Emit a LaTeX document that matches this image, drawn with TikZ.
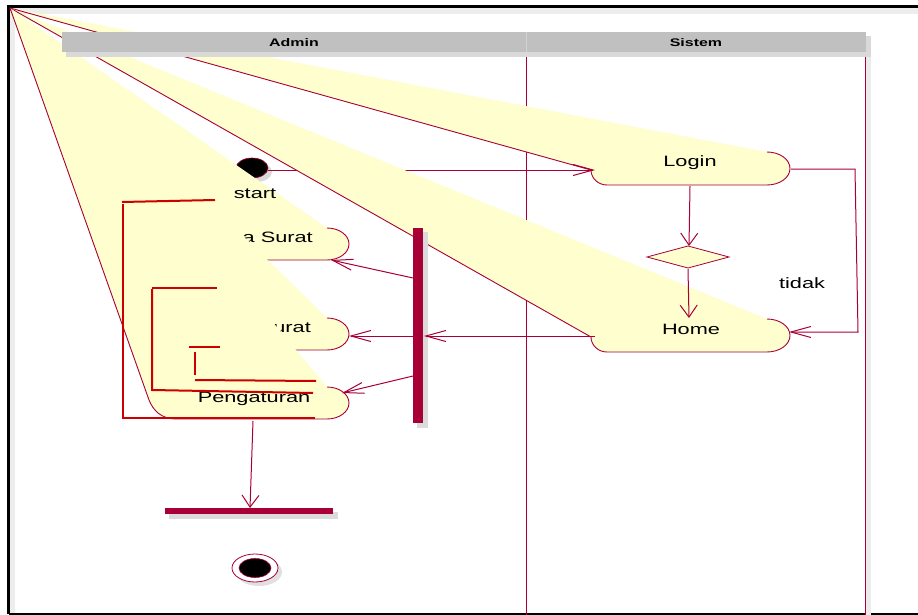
\documentclass[tikz,border=0pt]{standalone}
\usepackage{fontspec}
\setmainfont{Liberation Sans}
\usetikzlibrary{arrows.meta}
\definecolor{pred}{HTML}{A80036}
\definecolor{pyel}{HTML}{FEFECE}
\definecolor{hgray}{HTML}{C0C0C0}
\definecolor{lred}{HTML}{CC0000}
\newcommand{\hs}[1]{\scalebox{1.45}[1]{#1}}
\tikzset{
  conn/.style={draw=pred, line width=1pt},
  harr/.style={-{Straight Barb[length=20pt,width=11pt]}},
  varr/.style={-{Straight Barb[length=12pt,width=17pt]}},
  wedgefill/.style={fill=pyel},
  wedgeline/.style={draw=pred, line width=0.9pt},
  lbl/.style={font=\fontsize{15}{18}\selectfont, inner sep=0pt},
  hdr/.style={font=\fontsize{11}{13}\selectfont\bfseries, inner sep=0pt, anchor=base},
  loopline/.style={draw=lred, line width=2pt},
  shadow/.style={fill=black!14},
}
\begin{document}
\begin{tikzpicture}[x=1pt,y=-1pt]
\useasboundingbox (0,0) rectangle (918,615);
\fill[white] (0,0) rectangle (918,615);
\coordinate (o) at (10,8);
% frame with inner shadow
\fill[black!7] (10,8) rectangle (918,14);
\fill[black!7] (10,8) rectangle (15,613);
\draw[line width=2.5pt] (8.5,614) -- (8.5,6.5) -- (918,6.5);
\draw[line width=2.5pt] (8.5,614) -- (918,614);
% lane lines
\draw[pred, line width=1pt] (526.5,52) -- (526.5,615);
\draw[pred, line width=1pt] (865,52) -- (865,615);
\fill[black!8] (866,56) rectangle (871,615);
% start circle
\fill[black!15] (256,172) ellipse [x radius=16, y radius=10];
\draw[pred, fill=black, line width=0.6pt] (252,168) ellipse [x radius=16, y radius=10];
\coordinate (st) at (268,170);
% Login wedge
\fill[wedgefill] (o) -- (767,152) arc[start angle=-90,end angle=90,x radius=23,y radius=16.5] -- (607,185) .. controls (598,185) and (591,178) .. (591,170) -- cycle;
\draw[wedgeline] (767,152) arc[start angle=-90,end angle=90,x radius=23,y radius=16.5] -- (607,185) .. controls (598,185) and (591,178) .. (591,170) -- (o);
\node[lbl, anchor=base] (login) at (690,167) {\hs{Login}};
\coordinate (loginW) at (595,170);
\draw[conn,harr] (st) -- (loginW);
% Home wedge
\fill[wedgefill] (o) -- (767,319) arc[start angle=-90,end angle=90,x radius=23,y radius=16.5] -- (607,352) .. controls (598,352) and (591,345) .. (591,337) -- cycle;
\draw[wedgeline] (767,319) arc[start angle=-90,end angle=90,x radius=23,y radius=16.5] -- (607,352) .. controls (598,352) and (591,345) .. (591,337) -- (o);
\node[lbl, anchor=base] (home) at (691,334) {\hs{Home}};
% A wedge
\fill[wedgefill] (o) -- (327,228) arc[start angle=-90,end angle=90,x radius=22,y radius=16] -- (182,260) .. controls (172,260) and (165,253) .. (165,245) -- cycle;
\draw[wedgeline] (327,228) arc[start angle=-90,end angle=90,x radius=22,y radius=16] -- (182,260) .. controls (172,260) and (165,253) .. (165,245) -- (o);
\node[lbl, anchor=base east] (actA) at (313,242) {\hs{a Surat}};
\node[lbl, anchor=base] (startlbl) at (255,198) {\hs{start}};
% B wedge
\fill[wedgefill] (o) -- (327,318) arc[start angle=-90,end angle=90,x radius=22,y radius=16] -- (177,350) .. controls (167,350) and (160,343) .. (160,335) -- cycle;
\draw[wedgeline] (327,318) arc[start angle=-90,end angle=90,x radius=22,y radius=16] -- (177,350) .. controls (167,350) and (160,343) .. (160,335) -- (o);
\node[lbl, anchor=base east] (actB) at (311,332) {\hs{urat}};
% Pengaturan wedge
\fill[wedgefill] (o) -- (327,387) arc[start angle=-90,end angle=90,x radius=22,y radius=16] -- (176,419) .. controls (161,419) and (153,410) .. (149,400) -- cycle;
\draw[wedgeline] (327,387) arc[start angle=-90,end angle=90,x radius=22,y radius=16] -- (176,419) .. controls (161,419) and (153,410) .. (149,400) -- (o);
\node[lbl, anchor=base] (peng) at (254,402) {\hs{Pengaturan}};
% header
\fill[black!15] (66,36) rectangle (871,57);
\fill[hgray] (62,32) rectangle (866,52);
\draw[black!18, line width=0.6pt] (526.5,32) -- (526.5,52);
\node[hdr] (admin) at (294,46.5) {\hs{Admin}};
\node[hdr] (sistem) at (696,46.5) {\hs{Sistem}};
% fork bar
\fill[shadow] (417,232) rectangle (428,428);
\fill[pred] (413,228) rectangle (423,423);
\coordinate (barE) at (424,336);
\coordinate (barW1) at (413,278);
\coordinate (barW2) at (413,336);
\coordinate (barW3) at (413,376);
% diamond
\draw[pred, fill=pyel, line width=0.8pt] (647,257) -- (688,246) -- (729,257) -- (688,268) -- cycle;
\coordinate (decN) at (689,246);
\coordinate (decS) at (688,269);
% arrows
\coordinate (loginS) at (690,186);
\coordinate (homeN) at (689,318);
\coordinate (loginE) at (791,169);
\coordinate (homeE) at (789,332);
\coordinate (homeW) at (595,336);
\coordinate (aE) at (331,260);
\coordinate (bE) at (349,336);
\coordinate (pE) at (342,393);
\coordinate (pS) at (253,421);
\coordinate (joinN) at (250,508);
\draw[conn,varr] (loginS) -- (decN);
\draw[conn,varr] (decS) -- (homeN);
\draw[conn,harr] (loginE) -- (855,169) -- (858,332) -- (homeE);
\node[lbl, anchor=base] (tidak) at (802,288) {\hs{tidak}};
\draw[conn,harr] (homeW) -- (barE);
\draw[conn,harr] (barW2) -- (bE);
\draw[conn,harr] (barW1) -- (aE);
\draw[conn,harr] (barW3) -- (pE);
\draw[conn,varr] (pS) -- (joinN);
% join bar
\fill[shadow] (169,512) rectangle (338,519);
\fill[pred] (165,508) rectangle (333,514);
% end
\fill[black!12] (259,572) ellipse [x radius=23, y radius=14];
\draw[pred, fill=white, line width=0.8pt] (255,568) ellipse [x radius=23, y radius=14];
\draw[pred, fill=black, line width=0.6pt] (255,568) ellipse [x radius=16, y radius=9.5];
% loop lines
\draw[loopline] (122,202) -- (215,200);
\draw[loopline] (123,204) -- (123,418) -- (315,418);
\draw[loopline] (152,288) -- (217,288);
\draw[loopline] (152,289) -- (152,390) -- (313,393);
\draw[loopline] (189,347) -- (220,347);
\draw[loopline] (195,352) -- (195,375);
\draw[loopline] (195,380) -- (316,381);
\end{tikzpicture}
\end{document}
